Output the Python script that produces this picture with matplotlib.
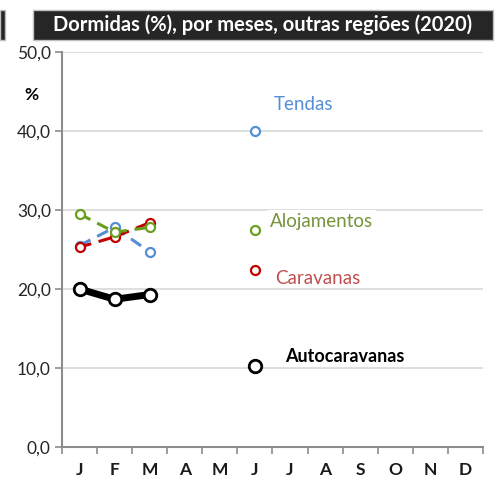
import matplotlib
matplotlib.use("Agg")
import matplotlib.pyplot as plt
import numpy as np
from matplotlib.patches import Rectangle

plt.rcParams['font.family'] = ['Lato', 'DejaVu Sans']

months = ["J", "F", "M", "A", "M", "J", "J", "A", "S", "O", "N", "D"]
tendas = [25.5, 27.8, 24.7, np.nan, np.nan, 40.0, np.nan, np.nan, np.nan, np.nan, np.nan, np.nan]
caravanas = [25.3, 26.6, 28.4, np.nan, np.nan, 22.4, np.nan, np.nan, np.nan, np.nan, np.nan, np.nan]
alojamentos = [29.5, 27.2, 27.8, np.nan, np.nan, 27.5, np.nan, np.nan, np.nan, np.nan, np.nan, np.nan]
autocaravanas = [20.0, 18.7, 19.3, np.nan, np.nan, 10.2, np.nan, np.nan, np.nan, np.nan, np.nan, np.nan]
yticks = [0, 10, 20, 30, 40, 50]
title = "Dormidas (%), por meses, outras regiões (2020)"

fig = plt.figure(figsize=(4.97, 4.79), dpi=100)
ax = fig.add_axes([0.1247, 0.0668, 0.8471, 0.8246])
x = np.arange(len(months))

gray = "#8c8c8c"
for yv in yticks[1:]:
    ax.axhline(yv, color="#d9d9d9", lw=1.2, zorder=0)

ax.plot(x, tendas, ls=(0, (4, 2.5)), color="#558ED5", lw=2.2, marker="o", ms=6.5,
        mfc="white", mec="#558ED5", mew=1.6, zorder=3)
ax.plot(x, caravanas, ls=(0, (4, 2.5)), color="#C00000", lw=2.2, marker="o", ms=6.5,
        mfc="white", mec="#C00000", mew=1.6, zorder=3)
ax.plot(x, alojamentos, ls=(0, (4, 2.5)), color="#6B9E1F", lw=2.2, marker="o", ms=6.5,
        mfc="white", mec="#6B9E1F", mew=1.6, zorder=3)
ax.plot(x, autocaravanas, ls="-", color="black", lw=5, marker="o", ms=9,
        mfc="white", mec="black", mew=2, zorder=4)

ax.set_xlim(-0.5, 11.5)
ax.set_ylim(0, 50)
ax.set_yticks(yticks)
ax.set_yticklabels([f"{v:.1f}".replace(".", ",") for v in yticks], fontsize=12.5, color="#262626")
ax.set_xticks(x)
ax.set_xticklabels(months, fontsize=12.5, fontweight="bold", color="#1a1a1a")
ax.set_xticks(np.arange(-0.5, 12, 1), minor=True)
ax.tick_params(axis="x", which="major", length=0, pad=11)
ax.tick_params(axis="x", which="minor", length=5, color=gray, width=1.2)
ax.tick_params(axis="y", length=5, color=gray, width=1.2, pad=3)

for s in ["top", "right"]:
    ax.spines[s].set_visible(False)
for s in ["left", "bottom"]:
    ax.spines[s].set_color(gray)
    ax.spines[s].set_linewidth(1.5)

bbox = dict(facecolor="white", edgecolor="none", pad=2)
fs = 13.5
ax.text(6.37, 43.3, "Tendas", color="#558ED5", fontsize=fs, ha="center", va="center")
ax.text(6.91, 28.6, "Alojamentos", color="#77933C", fontsize=fs, ha="center", va="center", bbox=bbox)
ax.text(6.8, 21.3, "Caravanas", color="#C0504D", fontsize=fs, ha="center", va="center")
ax.text(7.57, 11.5, "Autocaravanas", color="black", fontsize=fs - 0.5, fontweight="bold",
        ha="center", va="center", bbox=bbox)

fig.text(24 / 497, 1 - 95 / 479, "%", fontsize=12.5, fontweight="bold", ha="left", va="center")

# title box
fig.patches.append(Rectangle((33 / 497, 1 - 40 / 479), 460 / 497, 30 / 479,
                             transform=fig.transFigure, facecolor="#262626",
                             edgecolor="#bfbfbf", lw=1))
fig.text(263 / 497, 1 - 25 / 479, title, color="white", fontsize=14.5, fontweight="bold",
         ha="center", va="center")

# neighbour chart fragments on the left edge
fig.patches.append(Rectangle((0, 1 - 40 / 479), 5 / 497, 30 / 479,
                             transform=fig.transFigure, facecolor="#262626",
                             edgecolor="#bfbfbf", lw=1))

fig.savefig("out.png", dpi=100)
